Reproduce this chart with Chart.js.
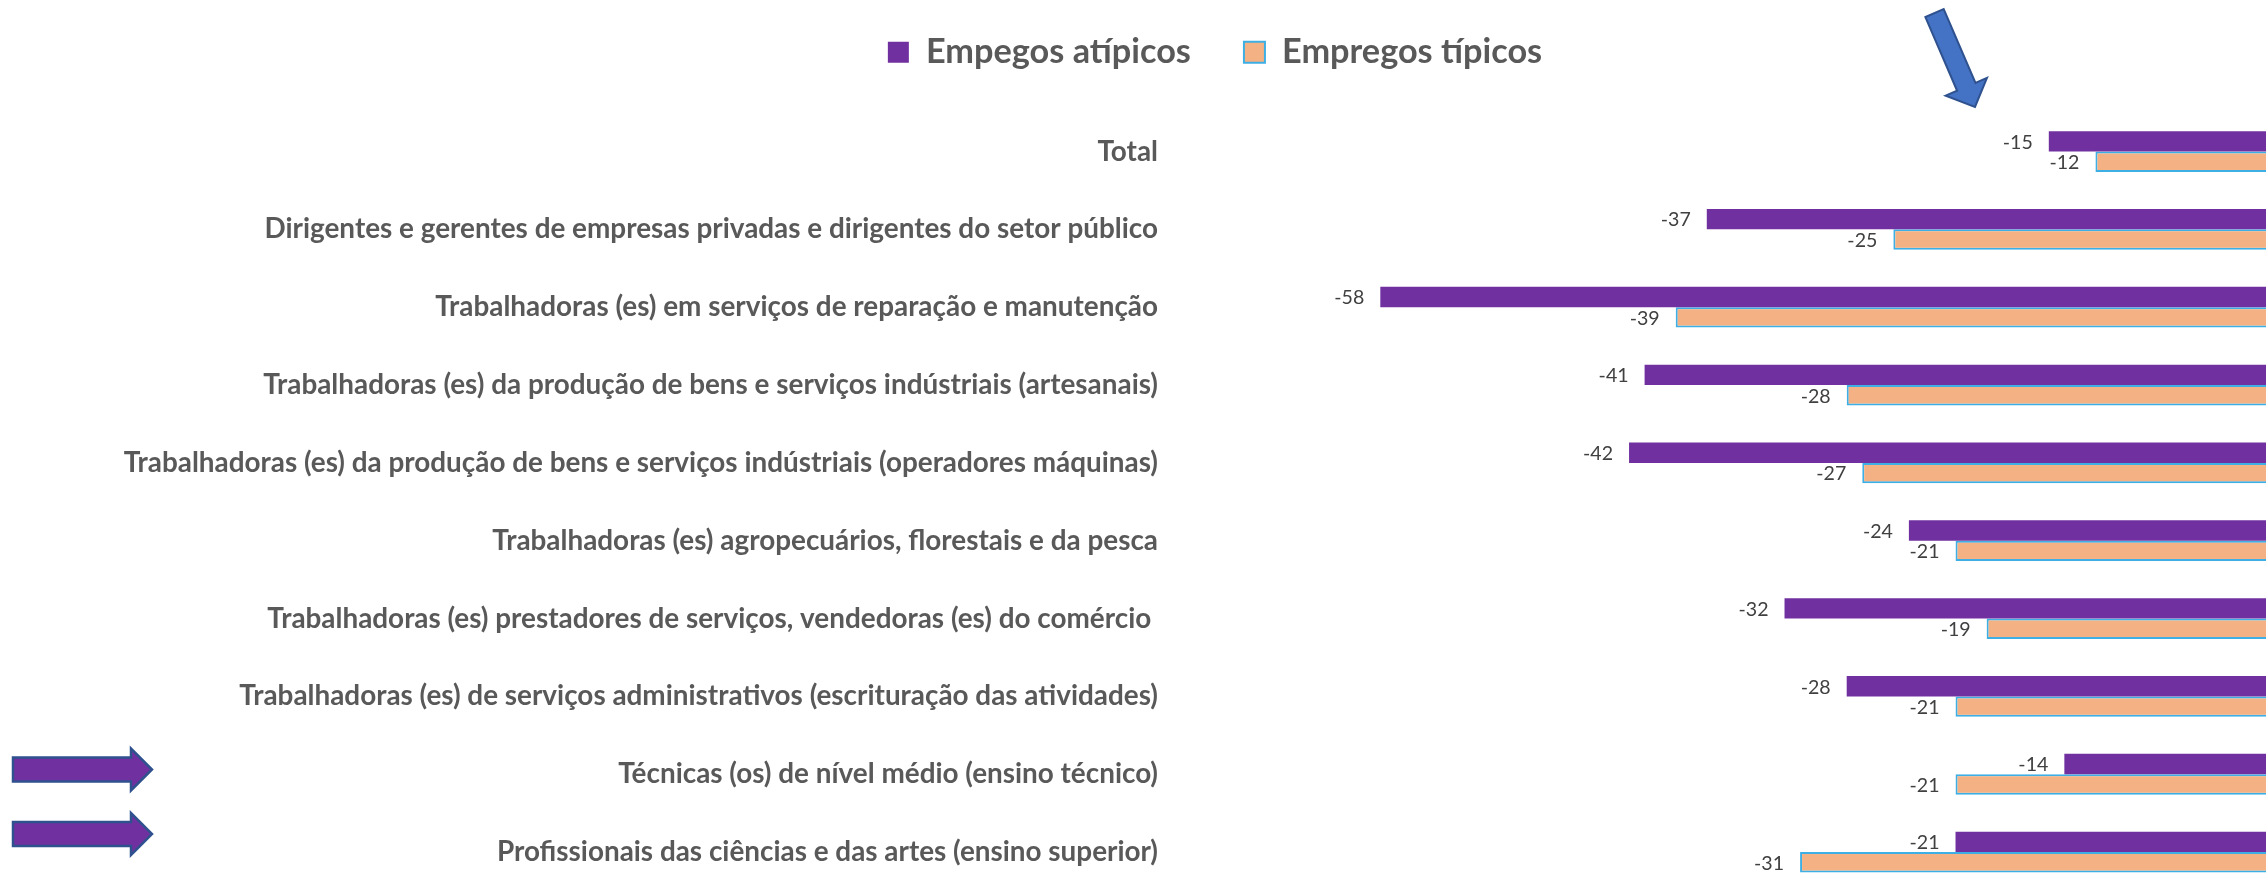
<!DOCTYPE html>
<html><head><meta charset="utf-8">
<script src="https://cdn.jsdelivr.net/npm/chart.js@4/dist/chart.umd.min.js"></script>
<style>
html,body{margin:0;padding:0;background:#fff;overflow:hidden;}
#wrap{position:relative;width:2266px;height:883px;overflow:hidden;background:#fff;}
#c{position:absolute;left:0;top:0;}
</style></head><body>
<div id="wrap"><canvas id="c"></canvas></div>
<script>
// ---- data ----
const categories = [
  "Total",
  "Dirigentes e gerentes de empresas privadas e dirigentes do setor público",
  "Trabalhadoras (es) em serviços de reparação e manutenção",
  "Trabalhadoras (es) da produção de bens e serviços indústriais (artesanais)",
  "Trabalhadoras (es) da produção de bens e serviços indústriais (operadores máquinas)",
  "Trabalhadoras (es) agropecuários, florestais e da pesca",
  "Trabalhadoras (es) prestadores de serviços, vendedoras (es) do comércio ",
  "Trabalhadoras (es) de serviços administrativos (escrituração das atividades)",
  "Técnicas (os) de nível médio (ensino técnico)",
  "Profissionais das ciências e das artes (ensino superior)"
];
const seriesNames = ["Empegos atípicos", "Empregos típicos"];
const atipicos = [-15, -37, -58, -41, -42, -24, -32, -28, -14, -21];
const tipicos  = [-12, -25, -39, -28, -27, -21, -19, -21, -21, -31];
const xMin = -72.3, xMax = 0;

// ---- fonts sized to match reference text widths ----
const FAMILY = 'Lato, "Open Sans", "DejaVu Sans", sans-serif';
const mctx = document.createElement('canvas').getContext('2d');
function widthAt100(text, weight) { mctx.font = weight + ' 100px ' + FAMILY; return mctx.measureText(text).width; }
const widestCat = Math.max(...categories.map(c => widthAt100(c, 'bold')));
const catSize = 100 * 1035 / widestCat;
const legSize = 100 * 265 / widthAt100(seriesNames[0], 'bold');
const dlSize = 100 * 30 / widthAt100('-58', 'normal');

// ---- layout (page px) ----
const P = 53;                               // legend item gap
const T = Math.round(P + legSize / 2 - 52); // canvas shifted up by T
const G = 112.6 + T - (legSize + P + 10);   // gap between legend and plot
const W = 2430;
const H = Math.round(890.6 + T + 20);
const cv = document.getElementById('c');
cv.width = W; cv.height = H;
cv.style.width = W + 'px'; cv.style.height = H + 'px';
cv.style.top = (-T) + 'px';

const valueLabels = {
  id: 'valueLabels',
  afterDatasetsDraw(chart) {
    const ctx = chart.ctx;
    ctx.save();
    ctx.font = dlSize + 'px ' + FAMILY;
    ctx.fillStyle = '#404040';
    ctx.textAlign = 'right';
    ctx.textBaseline = 'middle';
    chart.data.datasets.forEach((ds, di) => {
      chart.getDatasetMeta(di).data.forEach((el, i) => {
        const p = el.getProps(['x', 'y'], true);
        ctx.fillText(String(ds.data[i]), p.x - 16, p.y + 1);
      });
    });
    ctx.restore();
  }
};

const arrows = {
  id: 'arrows',
  afterDraw(chart) {
    const ctx = chart.ctx;
    ctx.save();
    ctx.translate(0, T);
    ctx.lineJoin = 'miter';
    // blue arrow pointing at the Total bar
    const tail = [1934.5, 13], tip = [1975, 107];
    let dx = tip[0] - tail[0], dy = tip[1] - tail[1];
    const len = Math.hypot(dx, dy); dx /= len; dy /= len;
    const nx = -dy, ny = dx;
    const sw = 10, hw = 22.5, hl = 22;
    const hb = [tip[0] - dx * hl, tip[1] - dy * hl];
    ctx.beginPath();
    ctx.moveTo(tail[0] + nx * sw, tail[1] + ny * sw);
    ctx.lineTo(hb[0] + nx * sw, hb[1] + ny * sw);
    ctx.lineTo(hb[0] + nx * hw, hb[1] + ny * hw);
    ctx.lineTo(tip[0], tip[1]);
    ctx.lineTo(hb[0] - nx * hw, hb[1] - ny * hw);
    ctx.lineTo(hb[0] - nx * sw, hb[1] - ny * sw);
    ctx.lineTo(tail[0] - nx * sw, tail[1] - ny * sw);
    ctx.closePath();
    ctx.fillStyle = '#4472C4';
    ctx.fill();
    ctx.strokeStyle = '#2F528F';
    ctx.lineWidth = 2;
    ctx.stroke();
    // purple arrows on the left
    [769.5, 834].forEach(cy => {
      ctx.beginPath();
      ctx.moveTo(13, cy - 12);
      ctx.lineTo(131, cy - 12);
      ctx.lineTo(131, cy - 21);
      ctx.lineTo(152, cy);
      ctx.lineTo(131, cy + 21);
      ctx.lineTo(131, cy + 12);
      ctx.lineTo(13, cy + 12);
      ctx.closePath();
      ctx.fillStyle = '#7030A0';
      ctx.fill();
      ctx.strokeStyle = '#2F528F';
      ctx.lineWidth = 2.5;
      ctx.stroke();
    });
    ctx.restore();
  }
};

new Chart(cv, {
  type: 'bar',
  data: {
    labels: categories,
    datasets: [
      { label: seriesNames[0], data: atipicos, backgroundColor: '#7030A0', borderWidth: 0,
        barPercentage: 1, categoryPercentage: 0.524 },
      { label: seriesNames[1], data: tipicos, backgroundColor: '#F4B183', borderColor: '#3DAFE4', borderWidth: 2,
        barPercentage: 1, categoryPercentage: 0.524 }
    ]
  },
  options: {
    indexAxis: 'y',
    responsive: false,
    animation: false,
    devicePixelRatio: 1,
    layout: { padding: { left: 0, right: 0, top: 0, bottom: 20 } },
    plugins: {
      tooltip: { enabled: false },
      legend: {
        position: 'top',
        align: 'center',
        labels: {
          boxWidth: 21, boxHeight: 21, padding: P,
          color: '#595959',
          font: { family: FAMILY, size: legSize, weight: 'bold' }
        }
      }
    },
    scales: {
      x: {
        type: 'linear', position: 'top', min: xMin, max: xMax,
        grid: { display: false, drawTicks: false },
        border: { display: false },
        ticks: { display: false },
        afterFit(s) { s.height = G; }
      },
      y: {
        type: 'category', position: 'left',
        grid: { display: false, drawTicks: false },
        border: { display: false },
        ticks: {
          padding: 0, autoSkip: false, color: '#595959',
          font: { family: FAMILY, size: catSize, weight: 'bold' }
        },
        afterFit(s) { s.width = 1158; }
      },
      y2: {
        type: 'category', position: 'right',
        grid: { display: false, drawTicks: false },
        border: { display: false },
        ticks: { display: false },
        afterFit(s) { s.width = 148; }
      }
    }
  },
  plugins: [valueLabels, arrows]
});
</script>
</body></html>
